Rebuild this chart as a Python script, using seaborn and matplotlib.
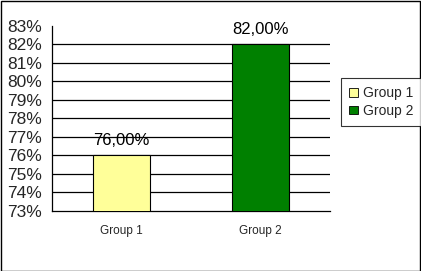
import matplotlib
matplotlib.use("Agg")
import matplotlib.pyplot as plt
import seaborn as sns
import pandas as pd
from matplotlib.patches import Rectangle
from matplotlib.ticker import FixedLocator

categories = ["Group 1", "Group 2"]
values = [76.0, 82.0]
colors = ["#FFFF99", "#008000"]
y_ticks = list(range(73, 84))

sns.set_style("white")
plt.rcParams['font.family'] = ['Liberation Sans', 'DejaVu Sans']

W, H = 421, 271
fig = plt.figure(figsize=(W / 100, H / 100), dpi=100)
ax = fig.add_axes([52 / W, 1 - 211 / H, (330 - 52) / W, (211 - 25.5) / H])

df = pd.DataFrame({"group": categories, "value": values})
sns.barplot(data=df, x="group", y="value", hue="group", palette=colors,
            saturation=1, edgecolor="black", linewidth=0.8, width=0.41,
            dodge=False, legend=False, ax=ax, zorder=3)

ax.set_ylim(73, 83)
ax.set_xlim(-0.5, 1.5)
ax.set_yticks(y_ticks)
ax.set_yticklabels([f"{t}%" for t in y_ticks], fontsize=12.5)
for t in y_ticks[1:-1]:
    ax.axhline(t, color="black", linewidth=0.9, zorder=1)

ax.set_xticks([0, 1])
ax.set_xticklabels(categories, fontsize=8.5)
ax.xaxis.set_minor_locator(FixedLocator([-0.5, 0.5, 1.5]))
ax.tick_params(axis="x", which="major", length=0, pad=10)
ax.tick_params(axis="x", which="minor", length=4, width=0.9, color="black", direction="out")
ax.tick_params(axis="y", length=5, width=0.9, color="black", direction="out", pad=2)
ax.set_xlabel("")
ax.set_ylabel("")

for s in ["top", "right"]:
    ax.spines[s].set_visible(False)
for s in ["left", "bottom"]:
    ax.spines[s].set_color("black")
    ax.spines[s].set_linewidth(0.9)

for i, v in enumerate(values):
    ax.text(i, v + 0.4, f"{v:.2f}%".replace(".", ","), ha="center", va="bottom",
            fontsize=12, color="black", zorder=5)

handles = [Rectangle((0, 0), 1, 1, facecolor=c, edgecolor="black", linewidth=0.6) for c in colors]
leg = fig.legend(handles, categories, loc="upper left",
                 bbox_to_anchor=(341 / W, 1 - 78 / H), fontsize=10,
                 frameon=True, fancybox=False, handlelength=0.6, handleheight=0.6,
                 handletextpad=0.4, borderpad=0.6, labelspacing=0.25, borderaxespad=0)
leg.get_frame().set_edgecolor("black")
leg.get_frame().set_linewidth(0.8)

fig.patches.append(Rectangle((0.5 / W, 0.5 / H), 1 - 1.5 / W, 1 - 1.5 / H,
                             transform=fig.transFigure, fill=False,
                             edgecolor="black", linewidth=1.0))

fig.savefig("out.png", dpi=100)
